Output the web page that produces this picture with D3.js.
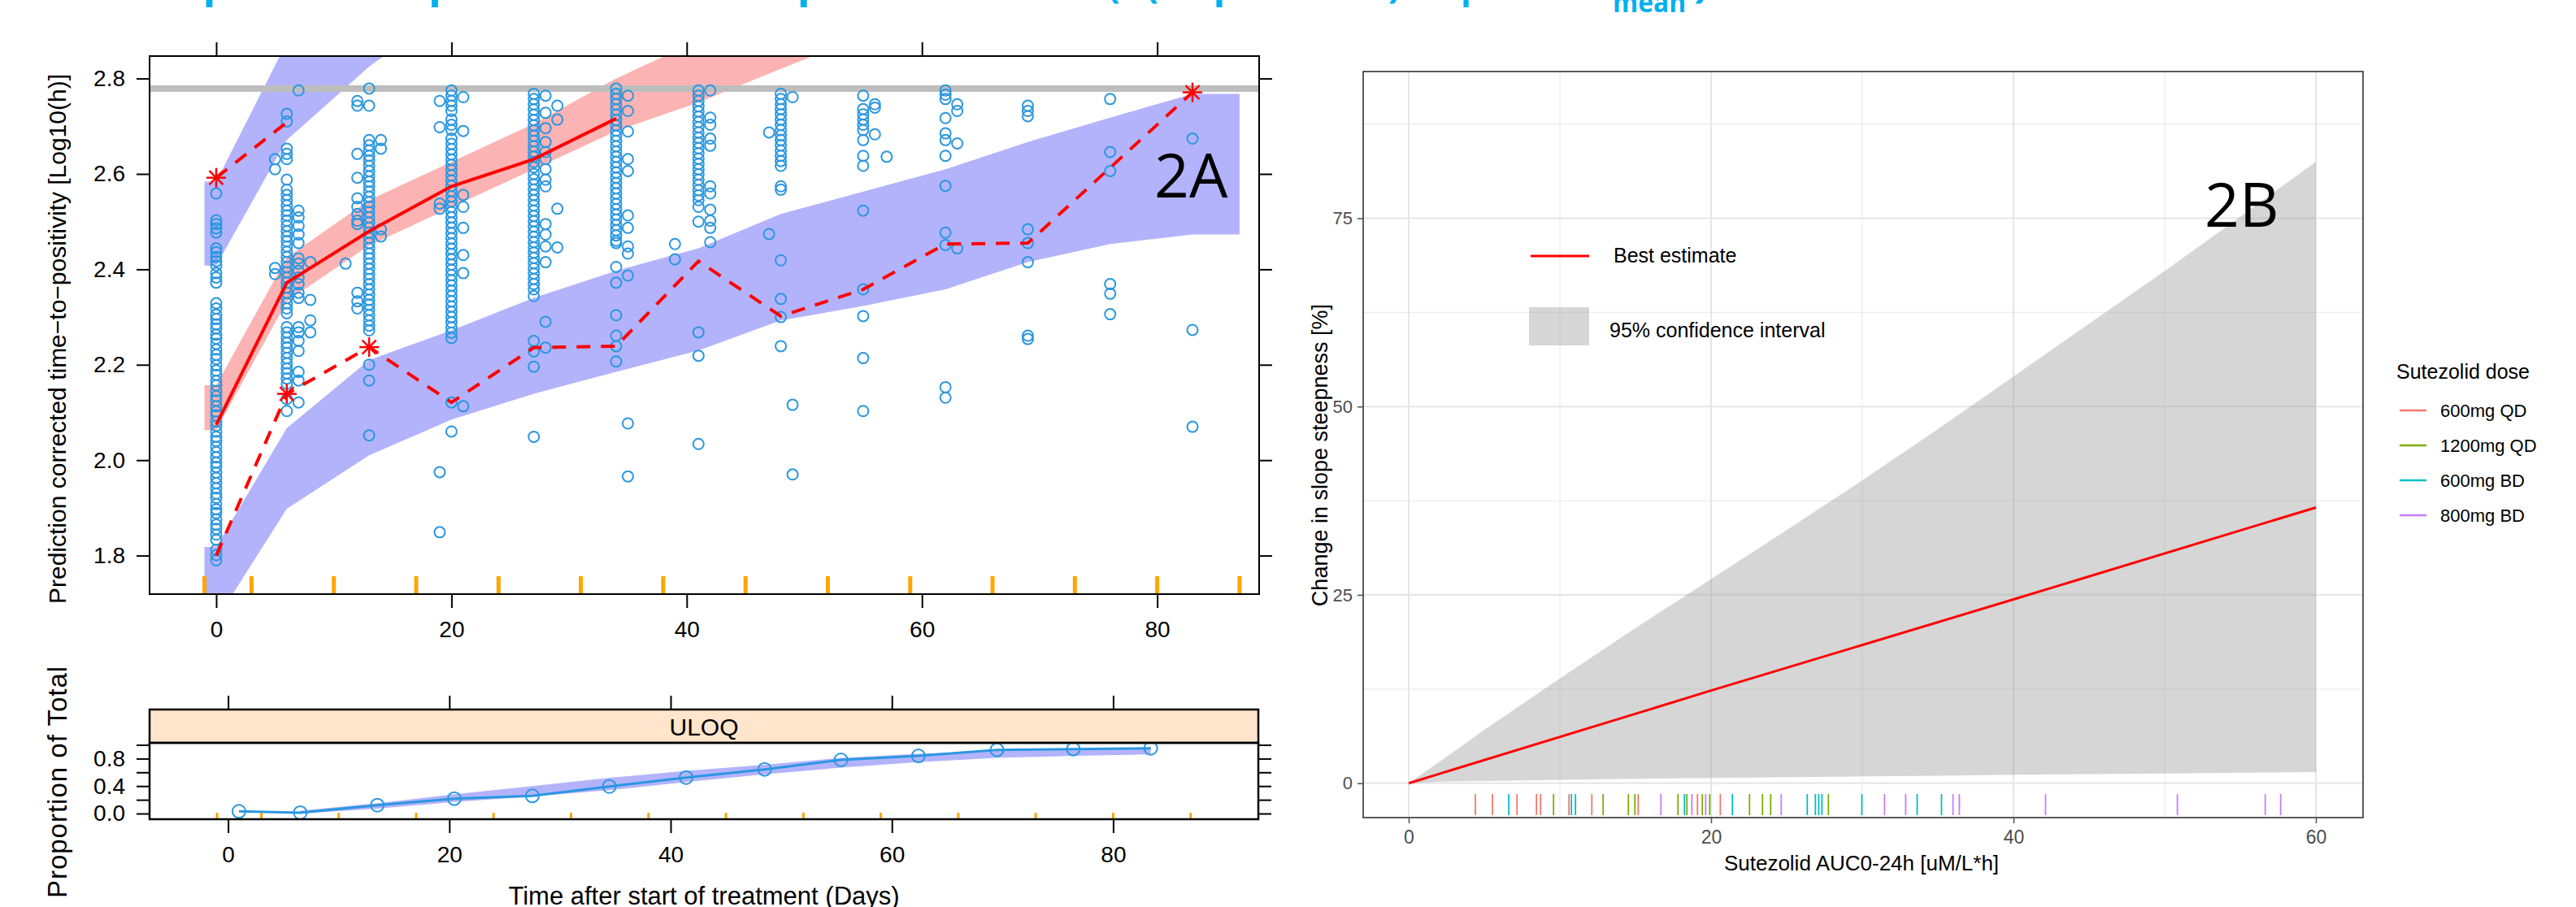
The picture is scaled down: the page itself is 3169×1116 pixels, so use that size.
<!DOCTYPE html>
<html><head><meta charset="utf-8">
<script src="https://cdn.jsdelivr.net/npm/d3@7"></script>
<style>
html,body{margin:0;padding:0;background:#fff;}
svg{display:block;}
</style></head><body>
<svg id="c" width="3169" height="1116"></svg>
<script>
// ---------------- DATA: panel 2A (VPC) ----------------
const obsDays = [0,5,6,7,8,11,12,13,14,19,20,21,27,28,29,34,35,39,41,42,47,48,49,55,56,57,62,63,69,76,83];
const obsTTP = [
 [2.559,2.503,2.495,2.486,2.477,2.444,2.436,2.426,2.417,2.408,2.392,2.383,2.372,2.329,2.318,2.305,2.296,2.285,2.276,2.263,2.255,2.244,2.232,2.221,2.212,2.199,2.188,2.179,2.166,2.157,2.145,2.134,2.125,2.113,2.102,2.094,2.081,2.072,2.06,2.049,2.04,2.028,2.017,2.006,1.995,1.986,1.974,1.963,1.952,1.941,1.93,1.921,1.908,1.897,1.889,1.876,1.865,1.856,1.844,1.833,1.812,1.801,1.79],
 [2.631,2.61,2.403,2.39],
 [2.726,2.71,2.653,2.642,2.631,2.588,2.567,2.556,2.545,2.534,2.523,2.513,2.502,2.491,2.48,2.469,2.459,2.448,2.437,2.426,2.415,2.405,2.394,2.383,2.372,2.362,2.351,2.34,2.329,2.318,2.308,2.279,2.268,2.257,2.246,2.236,2.225,2.214,2.203,2.192,2.182,2.171,2.16,2.128,2.103],
 [2.775,2.523,2.509,2.491,2.473,2.455,2.423,2.412,2.397,2.383,2.369,2.351,2.34,2.279,2.268,2.25,2.229,2.185,2.167,2.121],
 [2.415,2.336,2.293,2.268],
 [2.412],
 [2.753,2.743,2.642,2.592,2.549,2.531,2.516,2.502,2.495,2.351,2.333,2.318],
 [2.779,2.743,2.671,2.66,2.649,2.638,2.628,2.617,2.606,2.595,2.584,2.574,2.563,2.552,2.541,2.531,2.52,2.509,2.498,2.487,2.477,2.466,2.455,2.444,2.433,2.423,2.412,2.401,2.39,2.38,2.369,2.358,2.347,2.336,2.326,2.315,2.304,2.293,2.282,2.272,2.2,2.167,2.052],
 [2.671,2.653,2.484,2.469],
 [2.753,2.698,2.538,2.527,1.975,1.849],
 [2.775,2.764,2.753,2.743,2.732,2.714,2.703,2.692,2.674,2.663,2.652,2.641,2.63,2.619,2.608,2.597,2.586,2.575,2.564,2.553,2.542,2.531,2.52,2.509,2.498,2.487,2.476,2.465,2.454,2.443,2.432,2.421,2.41,2.399,2.388,2.377,2.366,2.355,2.344,2.333,2.322,2.311,2.3,2.289,2.278,2.267,2.256,2.121,2.06],
 [2.761,2.69,2.556,2.531,2.487,2.43,2.392,2.113],
 [2.768,2.757,2.746,2.735,2.724,2.713,2.702,2.691,2.68,2.669,2.658,2.647,2.636,2.625,2.614,2.6,2.589,2.578,2.567,2.556,2.545,2.534,2.523,2.512,2.501,2.49,2.479,2.468,2.457,2.446,2.435,2.424,2.413,2.402,2.391,2.38,2.369,2.358,2.344,2.25,2.228,2.196,2.049],
 [2.764,2.728,2.696,2.667,2.646,2.631,2.61,2.588,2.574,2.495,2.473,2.448,2.415,2.29,2.236],
 [2.743,2.714,2.527,2.446],
 [2.779,2.768,2.757,2.746,2.735,2.724,2.713,2.702,2.691,2.68,2.669,2.658,2.647,2.636,2.625,2.614,2.603,2.592,2.581,2.57,2.559,2.548,2.537,2.526,2.515,2.504,2.493,2.482,2.471,2.46,2.455,2.405,2.372,2.304,2.261,2.239,2.207],
 [2.764,2.732,2.689,2.631,2.606,2.513,2.487,2.448,2.433,2.387,2.077,1.966],
 [2.453,2.421],
 [2.775,2.764,2.753,2.742,2.731,2.72,2.709,2.698,2.687,2.676,2.665,2.654,2.643,2.632,2.621,2.61,2.599,2.588,2.577,2.566,2.555,2.545,2.531,2.5,2.268,2.219,2.034],
 [2.775,2.718,2.703,2.674,2.659,2.574,2.559,2.525,2.502,2.487,2.457],
 [2.687,2.474],
 [2.768,2.757,2.746,2.736,2.725,2.714,2.703,2.692,2.681,2.671,2.66,2.649,2.638,2.627,2.617,2.574,2.567,2.419,2.338,2.3,2.239],
 [2.761,2.116,1.97],
 [2.764,2.736,2.725,2.714,2.703,2.692,2.671,2.638,2.617,2.523,2.358,2.302,2.214,2.103],
 [2.746,2.739,2.683],
 [2.636],
 [2.775,2.766,2.757,2.717,2.685,2.671,2.638,2.575,2.477,2.451,2.153,2.131],
 [2.746,2.732,2.664,2.444],
 [2.743,2.732,2.721,2.484,2.455,2.415,2.261,2.254],
 [2.757,2.646,2.606,2.369,2.349,2.306],
 [2.674,2.273,2.07]
];
const medianDays = [0,6,13,20,27,34];
const medianObs  = [2.074,2.372,2.48,2.574,2.631,2.716];
const p95Days = [0,6];
const p95Obs  = [2.592,2.708];
const p05Days = [0,6,13,20,27,34,41,48,55,62,69,76,83];
const p05Obs  = [1.80,2.139,2.237,2.121,2.236,2.239,2.417,2.302,2.358,2.453,2.455,2.613,2.771];
const starDays = [0,6,13,83];
const starObs  = [2.592,2.139,2.237,2.771];
const medBandDays = [-1,0,6,13,20,27,34,41,48,55];
const medBandLo   = [2.063,2.063,2.333,2.45,2.53,2.61,2.69,2.75,2.82,2.89];
const medBandHi   = [2.157,2.157,2.425,2.545,2.625,2.705,2.80,2.88,2.95,3.02];
const hiBandDays = [-1,0,6,13,20];
const hiBandLo   = [2.408,2.408,2.671,2.825,2.95];
const hiBandHi   = [2.584,2.584,2.876,3.05,3.15];
const loBandDays = [-1,0,6,13,20,27,34,41,48,55,62,69,76,83,87];
const loBandLo   = [1.665,1.665,1.898,2.01,2.085,2.139,2.185,2.23,2.293,2.323,2.358,2.415,2.453,2.473,2.473];
const loBandHi   = [1.818,1.818,2.067,2.21,2.272,2.34,2.397,2.444,2.516,2.563,2.61,2.667,2.718,2.768,2.768];
const binEdges = [-1,3,10,17,24,31,38,45,52,59,66,73,80,87];
const uloq = 2.779;
const yTicksA = [1.8,2.0,2.2,2.4,2.6,2.8];
const xTicksA = [0,20,40,60,80];
// bottom panel (proportion above ULOQ)
const propDays = [0.98,6.52,13.49,20.45,27.5,34.46,41.4,48.5,55.4,62.4,69.5,76.4,83.4];
const propObs  = [0.032,0.012,0.122,0.217,0.257,0.394,0.524,0.643,0.781,0.84,0.927,0.939,0.95];
const propBandDays = [6.52,13.49,20.45,27.5,34.46,41.4,48.5,55.4,62.4,69.5,76.4,83.4];
const propBandLo   = [0.0,0.07,0.17,0.25,0.34,0.46,0.57,0.67,0.75,0.81,0.84,0.86];
const propBandHi   = [0.04,0.15,0.28,0.40,0.52,0.62,0.71,0.81,0.87,0.91,0.94,0.95];
const yTicksB = [0,0.2,0.4,0.6,0.8,1.0];
const yLabelsB = [0,0.4,0.8];
// ---------------- DATA: panel 2B ----------------
const aucGrid = [0,2.5,5,10,15,20,25,30,35,40,45,50,55,60];
const ciUpper = [0,3.5,7.1,13.9,20.6,27.1,33.6,40.2,47.0,54.0,61.0,68.0,75.2,82.5];
const ciLower = [0,0.25,0.3,0.45,0.6,0.7,0.8,0.9,1.0,1.12,1.2,1.3,1.4,1.48];
const bestAUC = [0,20,40,60];
const bestVal = [0,12.3,24.4,36.6];
const doseNames = ['600mg QD','1200mg QD','600mg BD','800mg BD'];
const doseColors = ['#F8766D','#7CAE00','#00BFC4','#C77CFF'];
const rugAUC = [4.41,5.54,6.62,7.16,8.45,8.72,9.58,10.60,10.76,11.03,12.11,12.86,14.53,14.96,15.18,16.68,17.81,18.24,18.40,18.73,19.10,19.42,19.64,19.91,20.61,21.41,22.54,23.40,23.94,24.64,26.36,26.90,27.12,27.33,27.76,29.97,31.47,32.87,33.63,35.24,36.00,36.42,42.12,50.84,56.65,57.67];
const rugDose = [0,0,2,0,0,0,1,0,2,2,0,1,1,1,0,3,1,2,1,3,0,1,3,1,0,2,1,1,1,3,2,2,2,2,1,2,3,3,2,2,3,3,3,3,3,3];
const xTicksC = [0,20,40,60];
const yTicksC = [0,25,50,75];

// ---------------- DRAWING ----------------
const FONT = '"Liberation Sans", Arial, sans-serif';
const CAL = '"Open Sans", "Liberation Sans", sans-serif';
const svg = d3.select('#c');
const BLUE_BAND = '#b3b3fc', RED_BAND = '#fcb3b3', PT = '#2b97e0';

function styleAxis(g, fs, col, w){
  g.select('.domain').remove();
  g.selectAll('.tick line').attr('stroke', col).attr('stroke-width', w);
  g.selectAll('.tick text').attr('font-size', fs).attr('fill', col).attr('font-family', FONT);
}
function band(days, lo, hi, sx, sy){
  return d3.area().x((d,i)=>sx(days[i])).y0((d,i)=>sy(lo[i])).y1((d,i)=>sy(hi[i]))(days);
}

// title (clipped at top edge as in the reference)
const title = svg.append('text').attr('font-family', CAL).attr('font-weight', 700)
  .attr('font-size', 55).attr('fill', '#00b0f0').attr('y', -4);
title.append('tspan').attr('x', 190).attr('textLength', 1140).attr('lengthAdjust','spacingAndGlyphs').text('Exposure-response relationship of sutezolid');
title.append('tspan').attr('x', 1362).attr('textLength', 362).attr('lengthAdjust','spacingAndGlyphs').text('(Δ(slope of TTP)');
title.append('tspan').attr('x', 1797).attr('textLength', 166).attr('lengthAdjust','spacingAndGlyphs').text('per AUC');
title.append('tspan').attr('x', 1984).attr('y', 15).attr('font-size', 34).attr('textLength', 90).attr('lengthAdjust','spacingAndGlyphs').text('mean');
title.append('tspan').attr('x', 2084).attr('y', -4).text(')');

// ===== Panel 2A main =====
const A = {l:184, r:1549, t:69, b:731};
const xA = d3.scaleLinear().domain([0,80]).range([266,1423.6]);
const yA = d3.scaleLinear().domain([1.8,2.8]).range([683.6,96.6]);
svg.append('clipPath').attr('id','clipA').append('rect')
  .attr('x',A.l).attr('y',A.t).attr('width',A.r-A.l).attr('height',A.b-A.t);
const gA = svg.append('g').attr('clip-path','url(#clipA)');
gA.append('path').attr('d', band(loBandDays, loBandLo, loBandHi, xA, yA)).attr('fill', BLUE_BAND);
gA.append('path').attr('d', band(hiBandDays, hiBandLo, hiBandHi, xA, yA)).attr('fill', BLUE_BAND);
gA.append('path').attr('d', band(medBandDays, medBandLo, medBandHi, xA, yA)).attr('fill', RED_BAND);
gA.append('line').attr('x1',A.l).attr('x2',A.r).attr('y1',yA(uloq)).attr('y2',yA(uloq))
  .attr('stroke','#bdbdbd').attr('stroke-width',8);
const pts = [];
obsDays.forEach((d,i)=>obsTTP[i].forEach(v=>pts.push([d,v])));
gA.selectAll('circle.obs').data(pts).enter().append('circle').attr('class','obs')
  .attr('cx',d=>xA(d[0])).attr('cy',d=>yA(d[1])).attr('r',6.5)
  .attr('fill','none').attr('stroke',PT).attr('stroke-width',2);
const lineA = (days, vals) => d3.line().x((d,i)=>xA(days[i])).y((d,i)=>yA(vals[i]))(days);
gA.append('path').attr('d', lineA(medianDays, medianObs)).attr('fill','none').attr('stroke','#ff0000').attr('stroke-width',4);
gA.append('path').attr('d', lineA(p95Days, p95Obs)).attr('fill','none').attr('stroke','#ff0000').attr('stroke-width',4).attr('stroke-dasharray','17,13');
gA.append('path').attr('d', lineA(p05Days, p05Obs)).attr('fill','none').attr('stroke','#ff0000').attr('stroke-width',4).attr('stroke-dasharray','17,13');
starDays.forEach((d,i)=>{
  const cx = xA(d), cy = yA(starObs[i]), r = 12;
  const g = gA.append('g').attr('stroke','#ff0000').attr('stroke-width',2.5);
  [0,45,90,135].forEach(a=>{
    const rad = a*Math.PI/180;
    g.append('line').attr('x1',cx-r*Math.cos(rad)).attr('y1',cy-r*Math.sin(rad))
      .attr('x2',cx+r*Math.cos(rad)).attr('y2',cy+r*Math.sin(rad));
  });
});
gA.selectAll('line.rug').data(binEdges).enter().append('line').attr('class','rug')
  .attr('x1',d=>xA(d)).attr('x2',d=>xA(d)).attr('y1',709).attr('y2',A.b)
  .attr('stroke','#ffa500').attr('stroke-width',5);
svg.append('rect').attr('x',A.l).attr('y',A.t).attr('width',A.r-A.l).attr('height',A.b-A.t)
  .attr('fill','none').attr('stroke','#000').attr('stroke-width',2);
styleAxis(svg.append('g').attr('transform',`translate(${A.l},0)`)
  .call(d3.axisLeft(yA).tickValues(yTicksA).tickFormat(d3.format('.1f')).tickSize(16).tickPadding(14)), 28, '#000', 2);
styleAxis(svg.append('g').attr('transform',`translate(${A.r},0)`)
  .call(d3.axisRight(yA).tickValues(yTicksA).tickFormat('').tickSize(16)), 28, '#000', 2);
styleAxis(svg.append('g').attr('transform',`translate(0,${A.t})`)
  .call(d3.axisTop(xA).tickValues(xTicksA).tickFormat('').tickSize(17)), 28, '#000', 2);
styleAxis(svg.append('g').attr('transform',`translate(0,${A.b})`)
  .call(d3.axisBottom(xA).tickValues(xTicksA).tickFormat(d3.format('d')).tickSize(17).tickPadding(16)), 28, '#000', 2);
svg.append('text').attr('transform','translate(81,417) rotate(-90)').attr('text-anchor','middle')
  .attr('font-family',FONT).attr('font-size',30).attr('fill','#000')
  .text('Prediction corrected time\u2212to\u2212positivity [Log10(h)]');
svg.append('text').attr('x',1420).attr('y',243).attr('font-family',CAL).attr('font-size',75).attr('fill','#000').text('2A');

// ===== Panel 2A bottom (ULOQ proportion) =====
const B = {l:184, r:1548, st:873, t:914, b:1008};
const xB = d3.scaleLinear().domain([0,80]).range([280.6,1369.4]);
const yB = d3.scaleLinear().domain([0,0.8]).range([1001,933.4]);
svg.append('rect').attr('x',B.l).attr('y',B.st).attr('width',B.r-B.l).attr('height',B.t-B.st)
  .attr('fill','#ffe5cc').attr('stroke','#000').attr('stroke-width',2.5);
svg.append('text').attr('x',(B.l+B.r)/2).attr('y',905).attr('text-anchor','middle')
  .attr('font-family',FONT).attr('font-size',30).attr('fill','#000').text('ULOQ');
svg.append('clipPath').attr('id','clipB').append('rect')
  .attr('x',B.l).attr('y',B.t).attr('width',B.r-B.l).attr('height',B.b-B.t);
const gB = svg.append('g').attr('clip-path','url(#clipB)');
gB.append('path').attr('d', band(propBandDays, propBandLo, propBandHi, xB, yB)).attr('fill', BLUE_BAND);
gB.append('path').attr('d', d3.line().x((d,i)=>xB(propDays[i])).y((d,i)=>yB(propObs[i]))(propDays))
  .attr('fill','none').attr('stroke',PT).attr('stroke-width',3);
gB.selectAll('circle').data(propDays).enter().append('circle')
  .attr('cx',(d)=>xB(d)).attr('cy',(d,i)=>yB(propObs[i])).attr('r',8)
  .attr('fill','none').attr('stroke',PT).attr('stroke-width',2);
gB.selectAll('line.rug').data(binEdges).enter().append('line').attr('class','rug')
  .attr('x1',d=>xB(d)).attr('x2',d=>xB(d)).attr('y1',1000).attr('y2',B.b)
  .attr('stroke','#ffa500').attr('stroke-width',3);
svg.append('rect').attr('x',B.l).attr('y',B.t).attr('width',B.r-B.l).attr('height',B.b-B.t)
  .attr('fill','none').attr('stroke','#000').attr('stroke-width',2.5);
styleAxis(svg.append('g').attr('transform',`translate(${B.l},0)`)
  .call(d3.axisLeft(yB).tickValues(yTicksB).tickFormat(d=>yLabelsB.some(v=>Math.abs(v-d)<1e-9)?d3.format('.1f')(d):'').tickSize(16).tickPadding(14)), 28, '#000', 2);
styleAxis(svg.append('g').attr('transform',`translate(${B.r},0)`)
  .call(d3.axisRight(yB).tickValues(yTicksB).tickFormat('').tickSize(16)), 28, '#000', 2);
styleAxis(svg.append('g').attr('transform',`translate(0,${B.st})`)
  .call(d3.axisTop(xB).tickValues(xTicksA).tickFormat('').tickSize(17)), 28, '#000', 2);
styleAxis(svg.append('g').attr('transform',`translate(0,${B.b})`)
  .call(d3.axisBottom(xB).tickValues(xTicksA).tickFormat(d3.format('d')).tickSize(17).tickPadding(16)), 28, '#000', 2);
svg.append('text').attr('transform','translate(82,962) rotate(-90)').attr('text-anchor','middle')
  .attr('font-family',FONT).attr('font-size',33).attr('letter-spacing',1).attr('fill','#000').text('Proportion of Total');
svg.append('text').attr('x',866).attr('y',1113).attr('text-anchor','middle')
  .attr('font-family',FONT).attr('font-size',31).attr('fill','#000').text('Time after start of treatment (Days)');

// ===== Panel 2B =====
const C = {l:1677, r:2907, t:88, b:1006};
const xC = d3.scaleLinear().domain([0,60]).range([1733,2849]);
const yC = d3.scaleLinear().domain([0,75]).range([963.7,268.5]);
svg.append('rect').attr('x',C.l).attr('y',C.t).attr('width',C.r-C.l).attr('height',C.b-C.t).attr('fill','#fff');
const gC = svg.append('g');
[10,30,50].forEach(v=>gC.append('line').attr('x1',xC(v)).attr('x2',xC(v)).attr('y1',C.t).attr('y2',C.b).attr('stroke','#ebebeb').attr('stroke-width',1.2));
[12.5,37.5,62.5,87.5].forEach(v=>gC.append('line').attr('y1',yC(v)).attr('y2',yC(v)).attr('x1',C.l).attr('x2',C.r).attr('stroke','#ebebeb').attr('stroke-width',1.2));
xTicksC.forEach(v=>gC.append('line').attr('x1',xC(v)).attr('x2',xC(v)).attr('y1',C.t).attr('y2',C.b).attr('stroke','#e6e6e6').attr('stroke-width',2.2));
yTicksC.forEach(v=>gC.append('line').attr('y1',yC(v)).attr('y2',yC(v)).attr('x1',C.l).attr('x2',C.r).attr('stroke','#e6e6e6').attr('stroke-width',2.2));
gC.append('path').attr('d', band(aucGrid, ciLower, ciUpper, xC, yC)).attr('fill','#999999').attr('fill-opacity',0.4);
gC.append('path').attr('d', d3.line().x((d,i)=>xC(bestAUC[i])).y((d,i)=>yC(bestVal[i]))(bestAUC))
  .attr('fill','none').attr('stroke','#ff0000').attr('stroke-width',3);
gC.selectAll('line.rug').data(rugAUC).enter().append('line').attr('class','rug')
  .attr('x1',d=>xC(d)).attr('x2',d=>xC(d)).attr('y1',977).attr('y2',1003)
  .attr('stroke',(d,i)=>doseColors[rugDose[i]]).attr('stroke-width',1.8);
svg.append('rect').attr('x',C.l).attr('y',C.t).attr('width',C.r-C.l).attr('height',C.b-C.t)
  .attr('fill','none').attr('stroke','#333').attr('stroke-width',1.6);
styleAxis(svg.append('g').attr('transform',`translate(${C.l},0)`)
  .call(d3.axisLeft(yC).tickValues(yTicksC).tickSize(7).tickPadding(6)), 22, '#4d4d4d', 1.5);
styleAxis(svg.append('g').attr('transform',`translate(0,${C.b})`)
  .call(d3.axisBottom(xC).tickValues(xTicksC).tickSize(7).tickPadding(9)), 23, '#4d4d4d', 1.5);
svg.append('text').attr('transform','translate(1633,560) rotate(-90)').attr('text-anchor','middle')
  .attr('font-family',FONT).attr('font-size',27).attr('fill','#000').text('Change in slope steepness [%]');
svg.append('text').attr('x',2290).attr('y',1071).attr('text-anchor','middle')
  .attr('font-family',FONT).attr('font-size',26).attr('fill','#000').text('Sutezolid AUC0-24h [uM/L*h]');
// inside legend
svg.append('line').attr('x1',1883).attr('x2',1955).attr('y1',315).attr('y2',315).attr('stroke','#ff0000').attr('stroke-width',3);
svg.append('text').attr('x',1985).attr('y',323).attr('font-family',FONT).attr('font-size',25).attr('fill','#000').text('Best estimate');
svg.append('rect').attr('x',1881).attr('y',378).attr('width',74).attr('height',47).attr('fill','#999999').attr('fill-opacity',0.4);
svg.append('text').attr('x',1980).attr('y',415).attr('font-family',FONT).attr('font-size',25).attr('fill','#000').text('95% confidence interval');
svg.append('text').attr('x',2712).attr('y',279).attr('font-family',CAL).attr('font-size',75).attr('fill','#000').text('2B');
// dose legend
svg.append('text').attr('x',2948).attr('y',466).attr('font-family',FONT).attr('font-size',25).attr('fill','#000').text('Sutezolid dose');
doseNames.forEach((n,i)=>{
  const y = 505 + i*43;
  svg.append('line').attr('x1',2952).attr('x2',2985).attr('y1',y).attr('y2',y).attr('stroke',doseColors[i]).attr('stroke-width',2.5);
  svg.append('text').attr('x',3002).attr('y',y+8).attr('font-family',FONT).attr('font-size',22).attr('fill','#000').text(n);
});
</script>
</body></html>
